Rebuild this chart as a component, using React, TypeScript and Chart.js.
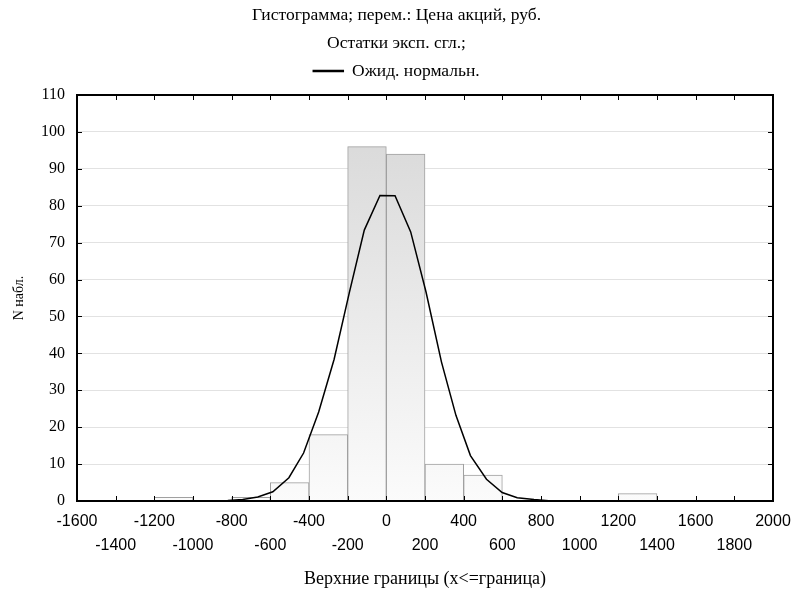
import React, { useEffect, useRef } from 'react';
import { Chart, registerables, layouts } from 'chart.js';

Chart.register(...registerables);

const titleLines = ['Гистограмма; перем.: Цена акций, руб.', 'Остатки эксп. сгл.;'];
const legendLabel = 'Ожид. нормальн.';
const xTitle = 'Верхние границы (x<=граница)';
const yTitle = 'N набл.';

// Histogram: upper bounds of bins and counts
const binUpper = [-1400, -1200, -1000, -800, -600, -400, -200, 0, 200, 400, 600, 800, 1000, 1200, 1400, 1600, 1800, 2000];
const binCounts = [0, 0, 1, 0, 1, 5, 18, 96, 94, 10, 7, 0, 0, 0, 2, 0, 0, 0];
const binWidth = 200;

// Expected normal curve
const normalX = [-1600, -900, -820, -743, -665, -587, -504, -428, -350, -270, -192, -114, -33, 45, 126, 205, 285, 360, 435, 518, 599, 677, 764, 840, 920, 2000];
const normalY = [0, 0.05, 0.15, 0.4, 1.1, 2.5, 6.3, 13.0, 24.1, 38.4, 56.3, 73.4, 82.8, 82.7, 72.9, 56.7, 37.7, 23.2, 12.3, 5.9, 2.3, 0.9, 0.4, 0.1, 0.03, 0];

const xMin = -1600;
const xMax = 2000;
const xStep = 200;
const yMin = 0;
const yMax = 110;
const yStep = 10;

const serif = "'Liberation Serif', 'Times New Roman', serif";
const sans = "'Liberation Sans', Arial, sans-serif";

const spacerPlugin = {
  id: 'legendSpacer',
  beforeInit(chart: any) {
    const box: any = {
      position: 'top',
      weight: 1,
      fullSize: true,
      options: {},
      left: 0,
      top: 0,
      right: 0,
      bottom: 0,
      width: 0,
      height: 0,
      isHorizontal() {
        return true;
      },
      update(maxWidth: number) {
        this.width = maxWidth;
        this.height = 5.25;
      },
      draw() {},
    };
    layouts.addBox(chart, box);
  },
};

const framePlugin = {
  id: 'frame',
  afterDatasetsDraw(chart: any) {
    const { ctx, chartArea: a, scales } = chart;
    ctx.save();
    ctx.strokeStyle = '#000';
    ctx.lineWidth = 1;
    ctx.beginPath();
    scales.x.ticks.forEach((t: any) => {
      const px = Math.round(scales.x.getPixelForValue(t.value)) + 0.5;
      ctx.moveTo(px, a.bottom);
      ctx.lineTo(px, a.bottom - 5);
      ctx.moveTo(px, a.top);
      ctx.lineTo(px, a.top + 5);
    });
    scales.y.ticks.forEach((t: any) => {
      const py = Math.round(scales.y.getPixelForValue(t.value)) + 0.5;
      ctx.moveTo(a.left, py);
      ctx.lineTo(a.left + 5, py);
      ctx.moveTo(a.right, py);
      ctx.lineTo(a.right - 5, py);
    });
    ctx.stroke();
    ctx.lineWidth = 2;
    ctx.strokeRect(a.left, a.top, a.right - a.left, a.bottom - a.top);
    ctx.restore();
  },
};

export default function App() {
  const ref = useRef<HTMLCanvasElement | null>(null);

  useEffect(() => {
    if (!ref.current) return;
    const barData = binUpper.map((u, i) => ({ x: u - binWidth / 2, y: binCounts[i] }));
    const lineData = normalX.map((x, i) => ({ x, y: normalY[i] }));

    const chart = new Chart(ref.current, {
      type: 'bar',
      data: {
        datasets: [
          {
            type: 'line',
            label: legendLabel,
            data: lineData,
            borderColor: '#000',
            backgroundColor: '#000',
            borderWidth: 1.5,
            pointRadius: 0,
            tension: 0,
            fill: false,
            order: 0,
          } as any,
          {
            type: 'bar',
            label: 'hist',
            data: barData,
            backgroundColor: (c: any) => {
              const ch = c.chart;
              const a = ch.chartArea;
              if (!a) return '#eeeeee';
              const g = ch.ctx.createLinearGradient(0, a.top, 0, a.bottom);
              g.addColorStop(0, '#d6d6d6');
              g.addColorStop(1, '#fbfbfb');
              return g;
            },
            borderColor: '#a0a0a0',
            borderWidth: 1,
            barPercentage: 1,
            categoryPercentage: 1,
            order: 1,
          } as any,
        ],
      },
      options: {
        animation: false,
        responsive: false,
        layout: { padding: { left: 0, right: 0, top: 0, bottom: 0 } },
        plugins: {
          tooltip: { enabled: false },
          title: {
            display: true,
            text: titleLines,
            color: '#000',
            font: { family: serif, size: 17.5, weight: 'normal', lineHeight: 1.6 },
            padding: { top: 1, bottom: -13 },
          },
          legend: {
            display: true,
            labels: {
              filter: (item: any) => item.text === legendLabel,
              boxWidth: 30,
              boxHeight: 1,
              color: '#000',
              font: { family: serif, size: 17.5 },
              padding: 18.25,
            },
          },
        },
        scales: {
          x: {
            type: 'linear',
            min: xMin,
            max: xMax,
            offset: false,
            grid: { display: false, drawTicks: false, offset: false },
            border: { display: false },
            afterFit: (s: any) => {
              s.height = 93;
              s.paddingLeft = 0;
              s.paddingRight = 20;
            },
            ticks: {
              stepSize: xStep,
              autoSkip: false,
              maxRotation: 0,
              minRotation: 0,
              padding: 9,
              color: '#000',
              font: { family: sans, size: 16, lineHeight: 1.5 },
              callback: (v: any) => {
                const n = Number(v);
                const idx = Math.round((n - xMin) / xStep);
                return idx % 2 === 0 ? [String(n)] : ['', String(n)];
              },
            },
            title: {
              display: true,
              text: xTitle,
              color: '#000',
              font: { family: serif, size: 18 },
              padding: { top: 0, bottom: 4 },
            },
          },
          y: {
            min: yMin,
            max: yMax,
            grid: { color: '#e2e2e2', lineWidth: 1, drawTicks: false },
            border: { display: false },
            afterFit: (s: any) => {
              s.width = 77;
              s.paddingTop = 95;
              s.paddingBottom = 0;
            },
            ticks: {
              stepSize: yStep,
              padding: 12,
              color: '#000',
              font: { family: serif, size: 16 },
            },
            title: {
              display: true,
              text: yTitle,
              color: '#000',
              font: { family: serif, size: 14 },
              padding: { top: 11, bottom: 0 },
            },
          },
        },
      },
      plugins: [spacerPlugin, framePlugin],
    });
    return () => chart.destroy();
  }, []);

  return (
    <div style={{ position: 'absolute', left: 0, top: 0, width: 793, height: 594, background: '#fff' }}>
      <canvas ref={ref} width={793} height={594} style={{ display: 'block' }} />
    </div>
  );
}
